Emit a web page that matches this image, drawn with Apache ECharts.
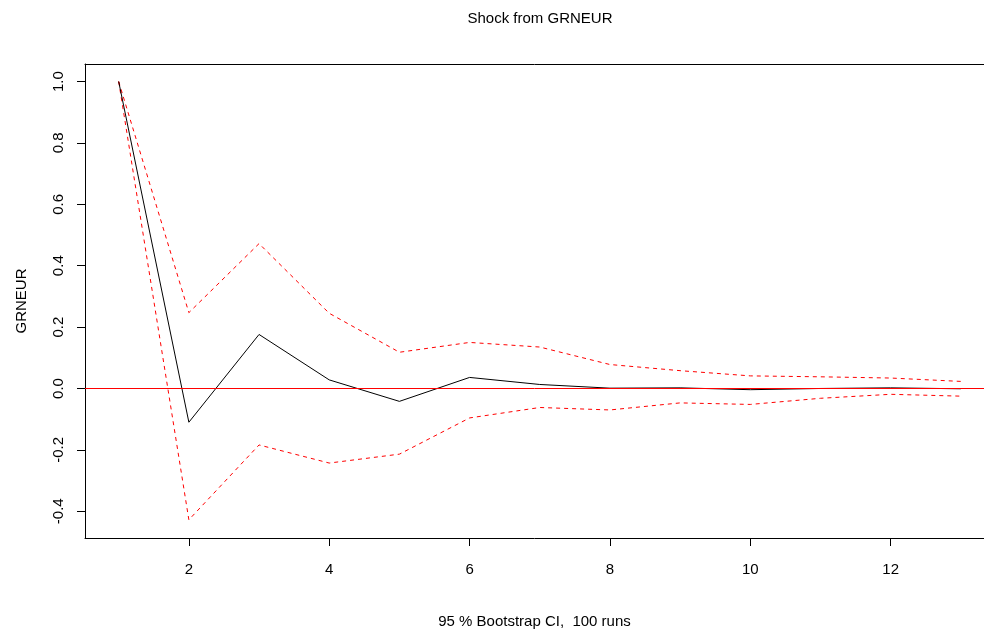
<!DOCTYPE html>
<html>
<head>
<meta charset="utf-8">
<script src="https://cdn.jsdelivr.net/npm/echarts@6/dist/echarts.min.js"></script>
<style>html,body{margin:0;padding:0;background:#fff;}#chart{width:984px;height:634px;}</style>
</head>
<body>
<div id="chart"></div>
<script>
const steps = [1,2,3,4,5,6,7,8,9,10,11,12,13];
const irf   = [1.0,-0.110,0.176,0.028,-0.042,0.036,0.013,0.001,0.002,-0.004,0.000,0.002,-0.001];
const upper = [1.0,0.247,0.472,0.245,0.118,0.150,0.135,0.078,0.058,0.041,0.038,0.034,0.023];
const lower = [1.0,-0.428,-0.184,-0.243,-0.214,-0.096,-0.062,-0.070,-0.047,-0.052,-0.032,-0.019,-0.025];
const xTicks = [2,4,6,8,10,12];
const yTicks = [-0.4,-0.2,0.0,0.2,0.4,0.6,0.8,1.0];
const titleText = 'Shock from GRNEUR';
const xTitle = '95 % Bootstrap CI,  100 runs';
const yTitle = 'GRNEUR';

const font = 'Liberation Sans, Arial, Helvetica, sans-serif';
const pair = arr => steps.map((s,i)=>[s,arr[i]]);
const X_MIN = 0.52, X_MAX = 13.33;
const chart = echarts.init(document.getElementById('chart'), null, {renderer:'canvas'});
chart.setOption({
  animation:false,
  backgroundColor:'#fff',
  title:{text:titleText, left:540, top:11, textAlign:'center', padding:0,
         textStyle:{fontFamily:font, fontSize:15, fontWeight:'normal', color:'#000'}},
  grid:{left:85, top:64, right:0, height:475, show:false},
  xAxis:[{
    type:'value', min:X_MIN, max:X_MAX, position:'bottom',
    name:xTitle, nameLocation:'middle', nameGap:76,
    nameTextStyle:{fontFamily:font, fontSize:15, color:'#000', padding:[0,0,0,0]},
    axisLine:{show:true, onZero:false, lineStyle:{color:'#000', width:1}},
    splitLine:{show:false},
    axisTick:{show:true, length:8, inside:false, lineStyle:{color:'#000'}, customValues:xTicks},
    axisLabel:{show:true, margin:24, fontFamily:font, fontSize:15, color:'#000', customValues:xTicks, formatter:v=>String(v)}
  },{
    type:'value', min:X_MIN, max:X_MAX, position:'top',
    axisLine:{show:true, onZero:false, lineStyle:{color:'#000', width:1}},
    splitLine:{show:false}, axisTick:{show:false}, axisLabel:{show:false}
  }],
  yAxis:{
    type:'value', min:-0.4872, max:1.0572,
    name:yTitle, nameLocation:'middle', nameGap:56, nameRotate:90,
    nameTextStyle:{fontFamily:font, fontSize:15, color:'#000'},
    axisLine:{show:true, onZero:false, lineStyle:{color:'#000', width:1}},
    splitLine:{show:false},
    axisTick:{show:true, length:8, inside:false, lineStyle:{color:'#000'}, customValues:yTicks},
    axisLabel:{show:true, margin:19, rotate:90, fontFamily:font, fontSize:15, color:'#000', customValues:yTicks, formatter:v=>v.toFixed(1)}
  },
  series:[
    {type:'line', xAxisIndex:0, data:pair(upper), symbol:'none', lineStyle:{color:'#ff0000', width:1, type:[4,4]}, z:2},
    {type:'line', xAxisIndex:0, data:pair(lower), symbol:'none', lineStyle:{color:'#ff0000', width:1, type:[4,4]}, z:2},
    {type:'line', xAxisIndex:0, data:pair(irf), symbol:'none', lineStyle:{color:'#000', width:1}, z:3,
     markLine:{silent:true, symbol:'none', label:{show:false}, lineStyle:{color:'#ff0000', width:1, type:'solid'}, data:[{yAxis:0}], z:4}}
  ]
});
</script>
</body>
</html>
